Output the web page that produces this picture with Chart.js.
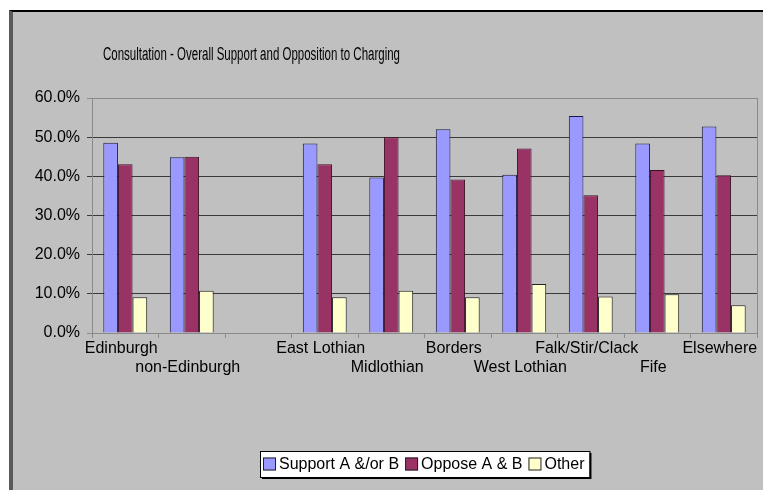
<!DOCTYPE html>
<html>
<head>
<meta charset="utf-8">
<script src="https://cdn.jsdelivr.net/npm/chart.js@4.4.1/dist/chart.umd.min.js"></script>
<style>
  html, body { margin: 0; padding: 0; background: #fff; overflow: hidden; }
  #frame { position: absolute; left: 9px; top: 10px; width: 750px; height: 478px; background: #c0c0c0; border-top: 2px solid #000; border-left: 4px solid #5a5a5a; }
  #chart { position: absolute; left: 0; top: 0; }
</style>
</head>
<body>
<div id="frame"></div>
<canvas id="chart" width="763" height="490"></canvas>
<script>
const chartTitle = 'Consultation - Overall Support and Opposition to Charging';
const categories = ['Edinburgh', 'non-Edinburgh', '', 'East Lothian', 'Midlothian', 'Borders', 'West Lothian', 'Falk/Stir/Clack', 'Fife', 'Elsewhere'];
const supportAB = [48.6, 44.9, null, 48.4, 39.7, 52.0, 40.4, 55.4, 48.4, 52.7];
const opposeAB = [43.1, 45.0, null, 43.1, 50.0, 39.2, 47.1, 35.2, 41.6, 40.3];
const other = [9.1, 10.8, null, 9.1, 10.8, 9.1, 12.5, 9.3, 9.9, 7.1];
const yTicks = [0, 10, 20, 30, 40, 50, 60];

// labels that Excel pushed down to the second row
const lowerRow = ['non-Edinburgh', 'Midlothian', 'West Lothian', 'Fife'];

const FONT = '"Liberation Sans", Arial, sans-serif';
Chart.defaults.font.family = FONT;
Chart.defaults.font.size = 16;
Chart.defaults.color = '#000';

// title, plot frame and boxed legend, drawn the old Excel way
const excelBits = {
  id: 'excelBits',
  beforeDatasetsDraw(chart) {
    const { ctx, chartArea: a } = chart;
    ctx.save();
    ctx.strokeStyle = '#8a8a8a';
    ctx.lineWidth = 1;
    ctx.beginPath();
    ctx.moveTo(a.right + 0.5, a.top);
    ctx.lineTo(a.right + 0.5, a.bottom);
    ctx.stroke();
    ctx.restore();
  },
  afterDraw(chart) {
    const ctx = chart.ctx;
    ctx.save();
    // title, squeezed like in the scan
    ctx.font = '18px ' + FONT;
    ctx.fillStyle = '#000';
    ctx.textBaseline = 'alphabetic';
    const tw = ctx.measureText(chartTitle).width;
    const sx = 297 / tw;
    ctx.translate(103, 60);
    ctx.scale(sx, 1);
    ctx.fillText(chartTitle, 0, 0);
    ctx.restore();

    // legend
    ctx.save();
    ctx.font = '16px ' + FONT;
    const sets = chart.data.datasets;
    const box = 13, gap = 3, sep = 6;
    let w = 3;
    sets.forEach((ds, i) => {
      w += box + gap + ctx.measureText(ds.label).width + (i < sets.length - 1 ? sep : 5);
    });
    const h = 26;
    const lx = Math.round(425 - w / 2), ly = 451;
    ctx.fillStyle = '#000';
    ctx.fillRect(lx + 2, ly + 2, w, h);
    ctx.fillStyle = '#fff';
    ctx.fillRect(lx, ly, w, h);
    ctx.strokeStyle = '#000';
    ctx.lineWidth = 1;
    ctx.strokeRect(lx + 0.5, ly + 0.5, w, h);
    let x = lx + 3;
    const cy = ly + h / 2;
    ctx.textBaseline = 'middle';
    sets.forEach((ds, i) => {
      ctx.fillStyle = ds.backgroundColor;
      ctx.fillRect(x, cy - box / 2, box, box);
      ctx.strokeStyle = '#222';
      ctx.strokeRect(x + 0.5, cy - box / 2 + 0.5, box - 1, box - 1);
      x += box + gap;
      ctx.fillStyle = '#000';
      ctx.fillText(ds.label, x, cy + 1);
      x += ctx.measureText(ds.label).width + sep;
    });
    ctx.restore();
  }
};

new Chart(document.getElementById('chart'), {
  type: 'bar',
  data: {
    labels: categories,
    datasets: [{
      label: 'Support A &/or B',
      data: supportAB,
      backgroundColor: '#9999ff',
      borderColor: '#1a1a40',
      borderWidth: 1
    }, {
      label: 'Oppose A & B',
      data: opposeAB,
      backgroundColor: '#993366',
      borderColor: '#3a1025',
      borderWidth: 1
    }, {
      label: 'Other',
      data: other,
      backgroundColor: '#ffffcc',
      borderColor: '#222',
      borderWidth: 1
    }]
  },
  options: {
    responsive: false,
    animation: false,
    layout: {
      padding: { top: 98, right: 6, left: 0, bottom: 0 }
    },
    datasets: {
      bar: {
        categoryPercentage: 0.66,
        barPercentage: 1.0
      }
    },
    plugins: {
      legend: { display: false },
      title: { display: false },
      tooltip: { enabled: false }
    },
    scales: {
      x: {
        offset: true,
        grid: {
          offset: true,
          drawOnChartArea: false,
          drawTicks: true,
          tickLength: 5,
          color: '#8a8a8a'
        },
        border: { color: '#8a8a8a' },
        ticks: {
          autoSkip: false,
          maxRotation: 0,
          minRotation: 0,
          padding: 1,
          labelOffset: -4,
          callback: function(value) {
            const name = this.getLabelForValue(value);
            return lowerRow.includes(name) ? ['', name] : name;
          }
        },
        afterFit(scale) { scale.height = 157; }
      },
      y: {
        min: yTicks[0],
        max: yTicks[yTicks.length - 1],
        afterBuildTicks(scale) {
          scale.ticks = yTicks.map(v => ({ value: v }));
        },
        grid: {
          tickLength: 5,
          color: c => (c.tick && (c.tick.value === 0 || c.tick.value === 60)) ? '#8a8a8a' : '#3a3a3a'
        },
        border: { color: '#8a8a8a' },
        ticks: {
          padding: 7,
          callback: v => v.toFixed(1) + '%'
        },
        afterFit(scale) { scale.width = 92; }
      }
    }
  },
  plugins: [excelBits]
});
</script>
</body>
</html>
